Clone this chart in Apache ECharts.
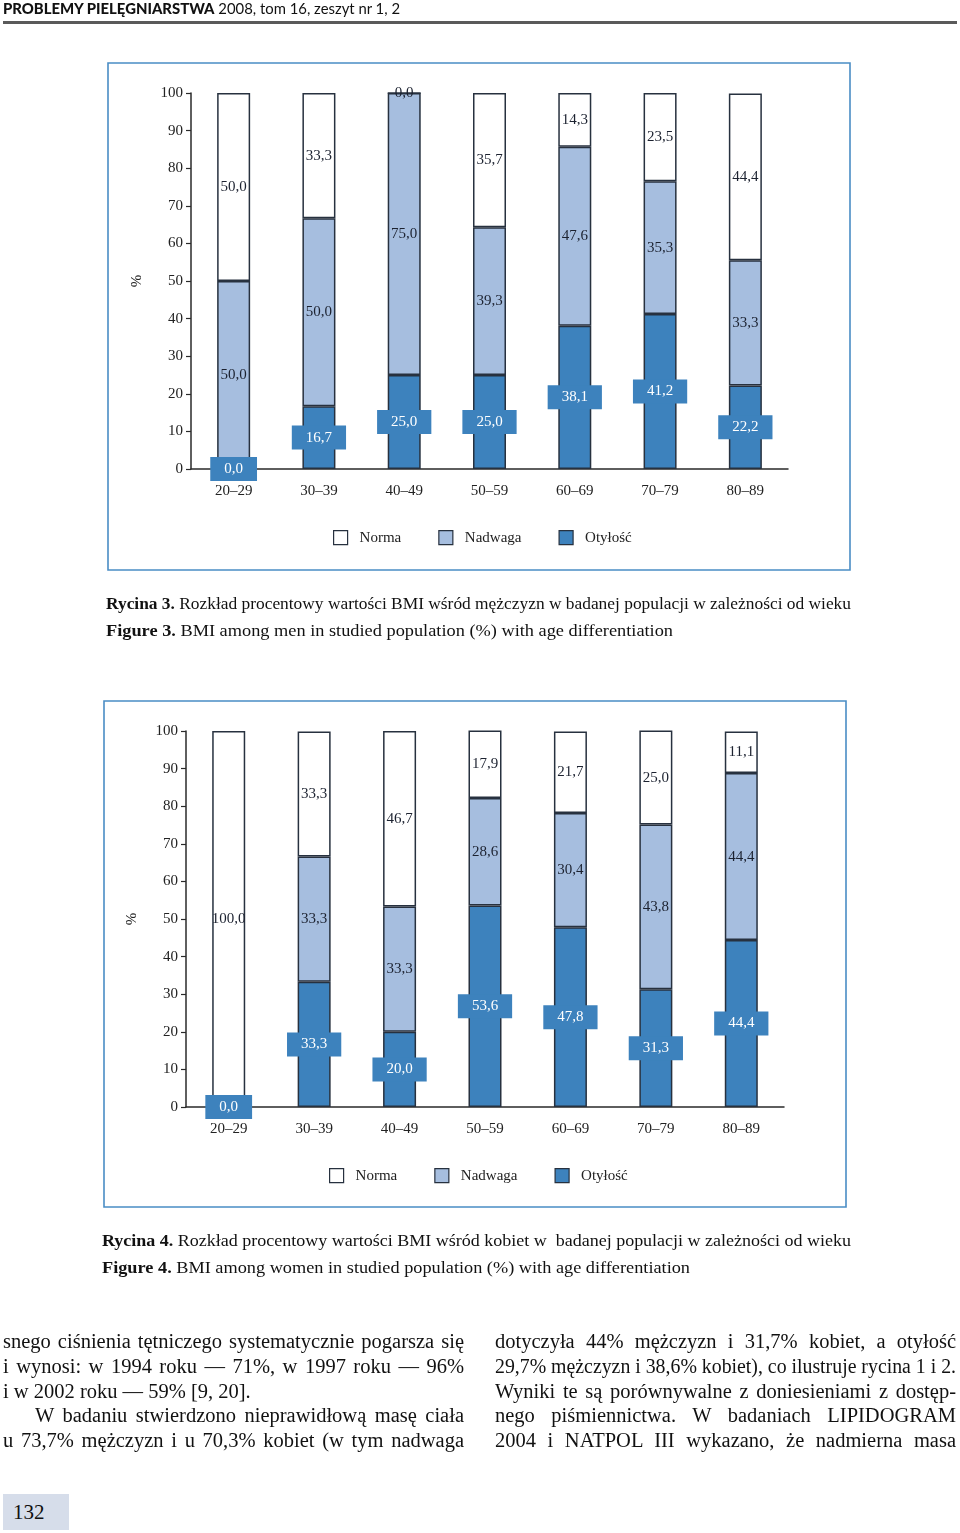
<!DOCTYPE html>
<html><head><meta charset="utf-8">
<script src="https://cdn.jsdelivr.net/npm/echarts/dist/echarts.min.js"></script>
<style>
html,body{margin:0;padding:0;background:#fff;}
body{width:960px;height:1533px;position:relative;overflow:hidden;}
#c{position:absolute;left:0;top:0;width:960px;height:1533px;}
.ln{position:absolute;white-space:nowrap;transform-origin:0 50%;color:#111;z-index:5;}
#rule{position:absolute;left:3px;top:21px;width:954px;height:3px;background:#5a5a5a;}
#pg{position:absolute;left:3px;top:1494px;width:66px;height:36px;background:#d6ddea;}
</style></head>
<body>
<div id="c"></div>
<div id="rule"></div>
<div id="pg"></div>
<script>
// ---- data ----
const categories = ['20–29','30–39','40–49','50–59','60–69','70–79','80–89'];
const seriesNames = ['Norma','Nadwaga','Otyłość'];
const menObesity    = [0.0, 16.7, 25.0, 25.0, 38.1, 41.2, 22.2];
const menOverweight = [50.0, 50.0, 75.0, 39.3, 47.6, 35.3, 33.3];
const menNormal     = [50.0, 33.3, 0.0, 35.7, 14.3, 23.5, 44.4];
const womenObesity    = [0.0, 33.3, 20.0, 53.6, 47.8, 31.3, 44.4];
const womenOverweight = [null, 33.3, 33.3, 28.6, 30.4, 43.8, 44.4];
const womenNormal     = [100.0, 33.3, 46.7, 17.9, 21.7, 25.0, 11.1];
const yMin = 0, yMax = 100, yStep = 10;

// ---- styles ----
const SERIF = '"Liberation Serif","Times New Roman",serif';
const C_OB = '#3d82bd', C_OV = '#a6bedf', C_NO = '#ffffff', C_BD = '#27313f', AX = '#2a2a2a', TXT = '#1c2230';
const fmt = p => (p.value == null ? '' : Number(p.value).toFixed(1).replace('.', ','));

function yAx(gi){
  return {type:'value', gridIndex:gi, min:yMin, max:yMax, interval:yStep,
    name:'%', nameLocation:'middle', nameGap:46, nameRotate:90,
    nameTextStyle:{fontFamily:SERIF,fontSize:15,color:'#222'},
    axisLine:{show:true,lineStyle:{color:AX,width:1.5}},
    axisTick:{show:true,length:5,lineStyle:{color:AX,width:1.2}},
    axisLabel:{fontFamily:SERIF,fontSize:15,color:'#222',margin:8},
    splitLine:{show:false}};
}
function xAx(gi){
  return {type:'category', gridIndex:gi, data:categories,
    axisLine:{lineStyle:{color:AX,width:1.5}},
    axisTick:{length:6,lineStyle:{color:AX,width:1.2}},
    axisLabel:{fontFamily:SERIF,fontSize:15,color:'#222',margin:15}};
}
function bars(gi, obes, over, norm){
  const base = {type:'bar', stack:'s'+gi, xAxisIndex:gi, yAxisIndex:gi, barWidth:33};
  const bs = c => ({color:c, borderColor:C_BD, borderWidth:1.5});
  const lab = {show:true, position:'inside', formatter:fmt, fontFamily:SERIF, fontSize:15, color:TXT};
  return [
    Object.assign({}, base, {name:seriesNames[2], data:obes, itemStyle:bs(C_OB),
      label:Object.assign({}, lab, {color:'#fff', backgroundColor:C_OB, padding:[5,14,4,14]})}),
    Object.assign({}, base, {name:seriesNames[1], data:over, itemStyle:bs(C_OV), label:lab}),
    Object.assign({}, base, {name:seriesNames[0], data:norm, itemStyle:bs(C_NO), label:lab})
  ];
}
function legend(left, top){
  return {left:left, top:top, padding:0, data:seriesNames, itemWidth:14, itemHeight:14, itemGap:37,
    icon:'rect', selectedMode:false,
    itemStyle:{borderColor:C_BD, borderWidth:1.2},
    textStyle:{fontFamily:SERIF,fontSize:15,color:'#222',padding:[0,0,0,7]}};
}

const chart = echarts.init(document.getElementById('c'), null, {renderer:'canvas'});
chart.setOption({
  animation:false,
  backgroundColor:'#fff',
  grid:[{left:191, top:93, width:597, height:376},
        {left:186, top:731, width:598, height:376}],
  xAxis:[xAx(0), xAx(1)],
  yAxis:[yAx(0), yAx(1)],
  legend:[legend(333,530), legend(329,1168)],
  graphic:[
    {type:'rect', silent:true, shape:{x:108,y:63,width:742,height:507}, style:{fill:'none',stroke:'#4a8dc5',lineWidth:1.6}},
    {type:'rect', silent:true, shape:{x:104,y:701,width:742,height:506}, style:{fill:'none',stroke:'#4a8dc5',lineWidth:1.6}}
  ],
  series:[].concat(bars(0, menObesity, menOverweight, menNormal), bars(1, womenObesity, womenOverweight, womenNormal))
});

// ---- page text ----
function addLine(cfg){
  const d = document.createElement('div');
  d.className = 'ln';
  d.style.left = cfg.x + 'px';
  d.style.top = (cfg.y - cfg.lh/2) + 'px';
  d.style.fontSize = cfg.fs + 'px';
  d.style.lineHeight = cfg.lh + 'px';
  d.style.fontFamily = cfg.font;
  if (cfg.color) d.style.color = cfg.color;
  d.innerHTML = cfg.html;
  document.body.appendChild(d);
  const nat = d.getBoundingClientRect().width;
  if (cfg.w) {
    if (cfg.mode === 'fit' || nat > cfg.w) {
      d.style.transform = 'scaleX(' + (cfg.w / nat) + ')';
    } else if (cfg.mode === 'justify') {
      const n = (d.textContent.match(/ /g) || []).length;
      if (n) d.style.wordSpacing = ((cfg.w - nat) / n) + 'px';
    }
  }
}
const SANS = 'Lato,"Liberation Sans",sans-serif';
addLine({x:3, y:8, w:397, lh:18, fs:15, font:SANS, mode:'fit',
  html:'<b style="font-weight:900">PROBLEMY PIELĘGNIARSTWA</b> 2008, tom 16, zeszyt nr 1, 2'});

const caps = [
  {x:106, y:604, w:745, html:'<b>Rycina 3.</b> Rozkład procentowy wartości BMI wśród mężczyzn w badanej populacji w zależności od wieku'},
  {x:106, y:631, w:567, html:'<b>Figure 3.</b> BMI among men in studied population (%) with age differentiation'},
  {x:102, y:1241, w:749, html:'<b>Rycina 4.</b> Rozkład procentowy wartości BMI wśród kobiet w&nbsp; badanej populacji w zależności od wieku'},
  {x:102, y:1268, w:588, html:'<b>Figure 4.</b> BMI among women in studied population (%) with age differentiation'}
];
caps.forEach(c => addLine(Object.assign({lh:20, fs:16, font:SERIF, mode:'fit'}, c)));

const body = [
  {x:3, y:1341, w:461, mode:'justify', html:'snego ciśnienia tętniczego systematycznie pogarsza się'},
  {x:3, y:1366, w:461, mode:'justify', html:'i wynosi: w 1994 roku — 71%, w 1997 roku — 96%'},
  {x:3, y:1391, w:0, mode:'none', html:'i w 2002 roku — 59% [9, 20].'},
  {x:35, y:1415, w:429, mode:'justify', html:'W badaniu stwierdzono nieprawidłową masę ciała'},
  {x:3, y:1440, w:461, mode:'justify', html:'u 73,7% mężczyzn i u 70,3% kobiet (w tym nadwaga'},
  {x:495, y:1341, w:461, mode:'justify', html:'dotyczyła 44% mężczyzn i 31,7% kobiet, a otyłość'},
  {x:495, y:1366, w:461, mode:'justify', html:'29,7% mężczyzn i 38,6% kobiet), co ilustruje rycina 1 i 2.'},
  {x:495, y:1391, w:461, mode:'justify', html:'Wyniki te są porównywalne z doniesieniami z dostęp-'},
  {x:495, y:1415, w:461, mode:'justify', html:'nego piśmiennictwa. W badaniach LIPIDOGRAM'},
  {x:495, y:1440, w:461, mode:'justify', html:'2004 i NATPOL III wykazano, że nadmierna masa'}
];
body.forEach(b => addLine(Object.assign({lh:24, fs:20.5, font:SERIF}, b)));

addLine({x:13, y:1512, w:0, lh:24, fs:21, font:SERIF, mode:'none', html:'132'});
</script>
</body></html>
